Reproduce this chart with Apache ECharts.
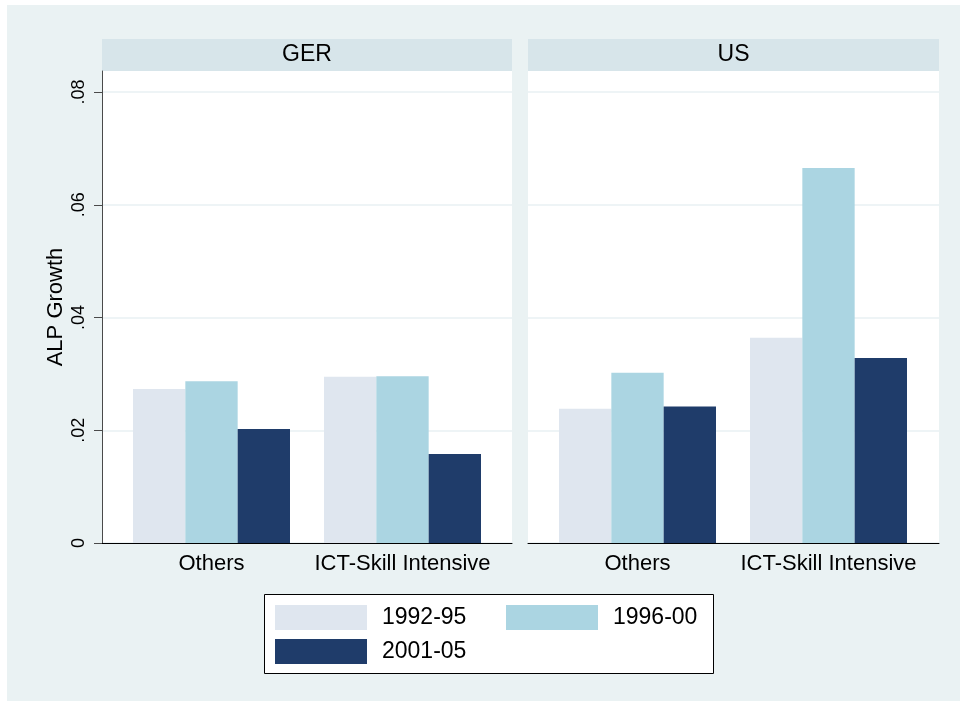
<!DOCTYPE html>
<html>
<head>
<meta charset="utf-8">
<script src="https://cdn.jsdelivr.net/npm/echarts@6/dist/echarts.min.js"></script>
<style>
  html, body { margin: 0; padding: 0; background: #fff; }
  #chart { width: 960px; height: 701px; }
</style>
</head>
<body>
<div id="chart"></div>
<script>
// ALP growth by sector group, GER vs US
const categories = ['Others', 'ICT-Skill Intensive'];
const periods = ['1992-95', '1996-00', '2001-05'];
const gerP1 = [0.0273, 0.0295];
const gerP2 = [0.0287, 0.0296];
const gerP3 = [0.0202, 0.0158];
const usP1 = [0.0238, 0.0364];
const usP2 = [0.0302, 0.0665];
const usP3 = [0.0242, 0.0328];
const yTicks = [0, 0.02, 0.04, 0.06, 0.08];
const yTickLabels = ['0', '.02', '.04', '.06', '.08'];

const colors = ['#dfe6ef', '#abd5e2', '#1f3c6a'];
const font = "'Liberation Sans', Arial, sans-serif";
const yMax = 0.08 * 472 / 451;   // top of panel sits a bit above .08
const gridTop = 71, gridH = 472;

function frameY(showAxis) {
  return {
    type: 'value', min: 0, max: yMax, gridIndex: showAxis ? 0 : 2,
    axisLine: { show: showAxis, lineStyle: { color: '#4a4a4a', width: 1 } },
    axisTick: { show: showAxis, length: 8, customValues: yTicks, lineStyle: { color: '#4a4a4a' } },
    axisLabel: {
      show: showAxis, customValues: yTicks, rotate: 90, margin: 14,
      fontSize: 18, fontFamily: font, color: '#000',
      formatter: v => yTickLabels[yTicks.indexOf(v)] ?? ''
    },
    splitLine: { show: true, lineStyle: { color: '#e9f1f3', width: 1.5 } },
    name: showAxis ? 'ALP Growth' : '', nameLocation: 'middle', nameGap: 35,
    nameTextStyle: { fontSize: 22, fontFamily: font, color: '#000' }
  };
}
function barsY(idx) {
  return { type: 'value', min: 0, max: yMax, gridIndex: idx, show: false, splitLine: { show: false } };
}
function frameX(idx) {
  return {
    type: 'value', min: 0, max: 1, gridIndex: idx,
    axisLine: { show: true, onZero: false, lineStyle: { color: '#000', width: 1 } },
    axisTick: { show: false }, axisLabel: { show: false }, splitLine: { show: false }
  };
}
function barsX(idx) {
  return {
    type: 'category', data: categories, gridIndex: idx,
    axisLine: { show: false }, axisTick: { show: false },
    axisLabel: { fontSize: 22, fontFamily: font, color: '#000', margin: 10, interval: 0 }
  };
}
function bars(name, data, k, idx) {
  return {
    type: 'bar', name: name, data: data, xAxisIndex: idx, yAxisIndex: idx,
    barGap: '0%', barCategoryGap: '17.8%', itemStyle: { color: colors[k] },
    silent: true
  };
}
function legendCol(names, left) {
  return {
    data: names, orient: 'vertical', left: left, top: 605, padding: 0,
    itemWidth: 92, itemHeight: 25, itemGap: 9, icon: 'rect', selectedMode: false,
    textStyle: { fontSize: 23, fontFamily: font, color: '#000', padding: [0, 0, 0, 10] }
  };
}

const chart = echarts.init(document.getElementById('chart'), null, { renderer: 'canvas' });
chart.setOption({
  backgroundColor: '#fff',
  animation: false,
  graphic: [
    { type: 'rect', z: -10, shape: { x: 7, y: 5, width: 953, height: 696 }, style: { fill: '#eaf2f3' } },
    { type: 'rect', z: -5, shape: { x: 102, y: 39, width: 410, height: 32 }, style: { fill: '#d7e5ea' } },
    { type: 'rect', z: -5, shape: { x: 528, y: 39, width: 411, height: 32 }, style: { fill: '#d7e5ea' } },
    { type: 'rect', z: -5, shape: { x: 264.5, y: 594.5, width: 449, height: 79 }, style: { fill: '#fff', stroke: '#000', lineWidth: 1 } },
    { type: 'text', x: 307, y: 55, style: { text: 'GER', fontSize: 23, fontFamily: font, fill: '#000', align: 'center', verticalAlign: 'middle' } },
    { type: 'text', x: 733.5, y: 55, style: { text: 'US', fontSize: 23, fontFamily: font, fill: '#000', align: 'center', verticalAlign: 'middle' } }
  ],
  grid: [
    { left: 102, top: gridTop, width: 410, height: gridH, show: true, backgroundColor: '#fff', borderWidth: 0 },
    { left: 116, top: gridTop, width: 382, height: gridH },
    { left: 528, top: gridTop, width: 411, height: gridH, show: true, backgroundColor: '#fff', borderWidth: 0 },
    { left: 542, top: gridTop, width: 382, height: gridH }
  ],
  xAxis: [frameX(0), barsX(1), frameX(2), barsX(3)],
  yAxis: [frameY(true), barsY(1), frameY(false), barsY(3)],
  legend: [
    legendCol([periods[0], periods[2]], 275),
    legendCol([periods[1]], 506)
  ],
  series: [
    bars(periods[0], gerP1, 0, 1),
    bars(periods[1], gerP2, 1, 1),
    bars(periods[2], gerP3, 2, 1),
    bars(periods[0], usP1, 0, 3),
    bars(periods[1], usP2, 1, 3),
    bars(periods[2], usP3, 2, 3)
  ]
});
</script>
</body>
</html>
